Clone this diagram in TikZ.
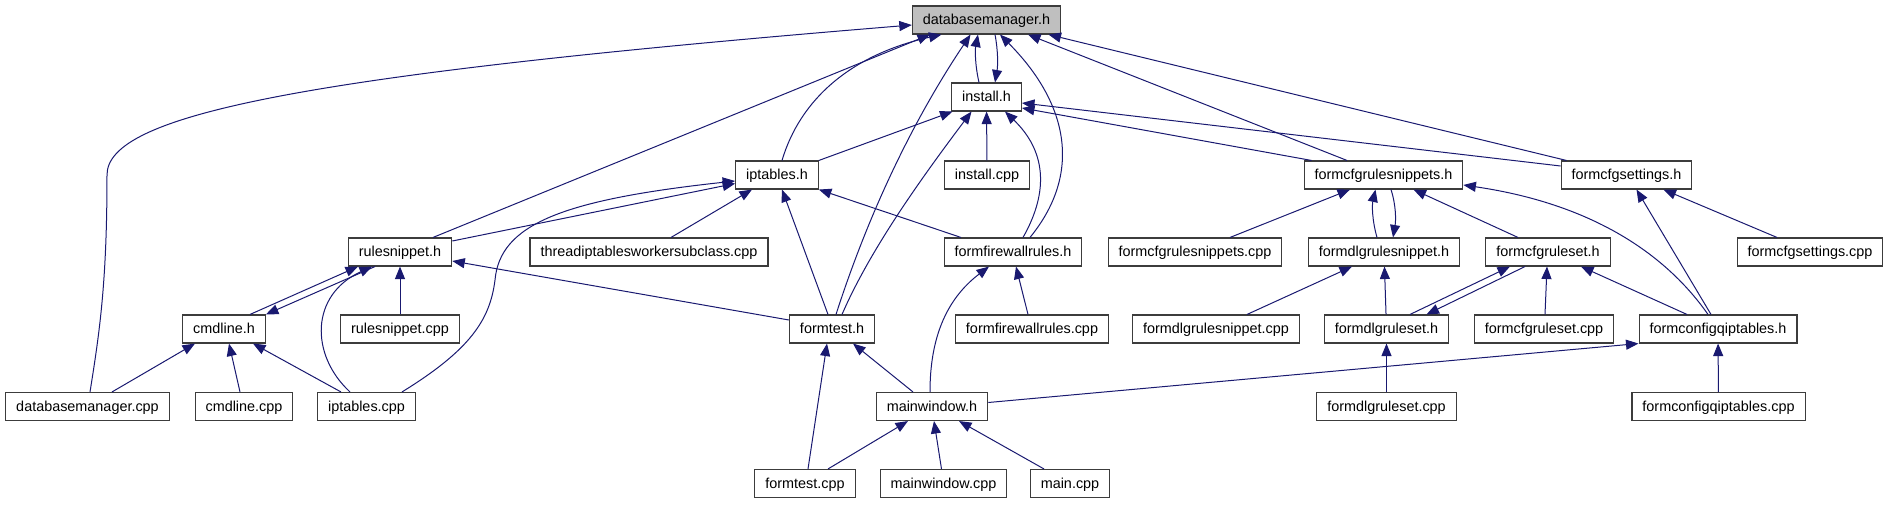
\documentclass[tikz,border=0pt]{standalone}
\usepackage{fontspec}
\setmainfont{Liberation Sans}
\usetikzlibrary{arrows.meta}
\definecolor{edgeblue}{RGB}{25,25,112}
\definecolor{maingray}{RGB}{191,191,191}
\definecolor{boxline}{RGB}{60,60,60}

\begin{document}
\begin{tikzpicture}[x=1pt,y=-1pt,
  file/.style={draw=boxline,line width=1.1pt,fill=white,inner xsep=10.5pt,inner ysep=0pt,
    minimum height=28pt,text height=11pt,text depth=2pt,font=\fontsize{14.4}{17}\selectfont},
  incl/.style={draw=edgeblue,line width=1pt,-{Triangle[length=12.5pt,width=10pt]}}]
\useasboundingbox (0,0) rectangle (1891,504);

\node[file,fill=maingray] (dbmh) at (986.5,20) {databasemanager.h};
\node[file] (installh) at (986.5,97) {install.h};
\node[file] (iptablesh) at (777,175) {iptables.h};
\node[file] (installcpp) at (987,175) {install.cpp};
\node[file] (fcrsh) at (1383.5,175) {formcfgrulesnippets.h};
\node[file] (fcsh) at (1626.5,175) {formcfgsettings.h};
\node[file] (rulesnippeth) at (400,252) {rulesnippet.h};
\node[file] (threadcpp) at (649,252) {threadiptablesworkersubclass.cpp};
\node[file] (ffrh) at (1013,252) {formfirewallrules.h};
\node[file] (fcrscpp) at (1195,252) {formcfgrulesnippets.cpp};
\node[file] (fdrsh) at (1384,252) {formdlgrulesnippet.h};
\node[file] (fcrulesh) at (1548,252) {formcfgruleset.h};
\node[file] (fcscpp) at (1810,252) {formcfgsettings.cpp};
\node[file] (cmdlineh) at (224,329) {cmdline.h};
\node[file] (rulesnippetcpp) at (400,329) {rulesnippet.cpp};
\node[file] (formtesth) at (832,329) {formtest.h};
\node[file] (ffrcpp) at (1032,329) {formfirewallrules.cpp};
\node[file] (fdrscpp) at (1216,329) {formdlgrulesnippet.cpp};
\node[file] (fdrulesh) at (1386.5,329) {formdlgruleset.h};
\node[file] (fcrulescpp) at (1544,329) {formcfgruleset.cpp};
\node[file] (fcqh) at (1718,329) {formconfigqiptables.h};
\node[file] (dbmcpp) at (87.5,406.5) {databasemanager.cpp};
\node[file] (cmdlinecpp) at (244,406.5) {cmdline.cpp};
\node[file] (iptablescpp) at (366.5,406.5) {iptables.cpp};
\node[file] (mainwindowh) at (932,406.5) {mainwindow.h};
\node[file] (fdrulescpp) at (1386.5,406.5) {formdlgruleset.cpp};
\node[file] (fcqcpp) at (1718.5,406.5) {formconfigqiptables.cpp};
\node[file] (formtestcpp) at (805,483.5) {formtest.cpp};
\node[file] (mainwindowcpp) at (943.5,483.5) {mainwindow.cpp};
\node[file] (maincpp) at (1070,483.5) {main.cpp};

\draw[incl] ([xshift=2.5]dbmcpp.north) .. controls (100,330) and (107,280) .. (107,175)
  .. controls (107,115) and (300,75) .. ([yshift=-5]dbmh.west);
\draw[incl] ([xshift=33]rulesnippeth.north) -- ([xshift=-56.5]dbmh.south);
\draw[incl] ([xshift=5]iptablesh.north) .. controls (800,100) and (850,55) .. ([xshift=-45]dbmh.south);
\draw[incl] ([xshift=4]formtesth.north) .. controls (860,240) and (900,140) .. ([xshift=-16]dbmh.south);
\draw[incl] ([xshift=-7.5]installh.north) .. controls (975,65) and (975,50) .. ([xshift=-8.5]dbmh.south);
\draw[incl] ([xshift=8.5]dbmh.south) .. controls (998,50) and (998,65) .. ([xshift=8.5]installh.north);
\draw[incl] ([xshift=17]ffrh.north) .. controls (1085,170) and (1065,100) .. ([xshift=13.5]dbmh.south);
\draw[incl] ([xshift=-36.5]fcrsh.north) -- ([xshift=41.5]dbmh.south);
\draw[incl] ([xshift=-60]fcsh.north) -- ([xshift=62]dbmh.south);

\draw[incl] (iptablesh.north east) -- ([xshift=-34]installh.south);
\draw[incl] ([xshift=10]formtesth.north) .. controls (870,250) and (920,180) .. ([xshift=-15]installh.south);
\draw[incl] (installcpp) -- (installh);
\draw[incl] ([xshift=10]ffrh.north) .. controls (1050,190) and (1045,150) .. ([xshift=18.5]installh.south);
\draw[incl] ([xshift=-72]fcrsh.north) -- ([yshift=-11]installh.east);
\draw[incl] ([yshift=9]fcsh.west) -- ([yshift=-6]installh.east);

\draw[incl] ([yshift=11]rulesnippeth.east) -- ([yshift=-8.5]iptablesh.west);
\draw[incl] ([xshift=35.5]iptablescpp.north) .. controls (470,350) and (490,320) .. (495,280)
  .. controls (500,225) and (560,200) .. ([yshift=-6]iptablesh.west);
\draw[incl] ([xshift=22]threadcpp.north) -- ([xshift=-25]iptablesh.south);
\draw[incl] ([xshift=-4]formtesth.north) -- ([xshift=5]iptablesh.south);
\draw[incl] ([xshift=-52]ffrh.north) -- (iptablesh.south east);

\draw[incl] ([xshift=26]cmdlineh.north) -- ([xshift=-42]rulesnippeth.south);
\draw[incl] ([xshift=-25]rulesnippeth.south) -- (cmdlineh.north east);
\draw[incl] ([xshift=-16.5]iptablescpp.north) .. controls (310,355) and (310,295) .. ([xshift=-28]rulesnippeth.south);
\draw[incl] (rulesnippetcpp) -- (rulesnippeth);
\draw[incl] ([yshift=9]formtesth.west) -- ([yshift=-9]rulesnippeth.east);

\draw[incl] ([xshift=24.5]dbmcpp.north) -- ([xshift=-29]cmdlineh.south);
\draw[incl] ([xshift=-4]cmdlinecpp.north) -- ([xshift=5]cmdlineh.south);
\draw[incl] ([xshift=-25.5]iptablescpp.north) -- ([xshift=29]cmdlineh.south);

\draw[incl] ([xshift=3]formtestcpp.north) -- ([xshift=-5]formtesth.south);
\draw[incl] ([xshift=-19]mainwindowh.north) -- ([xshift=21]formtesth.south);
\draw[incl] ([xshift=-2]mainwindowh.north) .. controls (930,340) and (945,300) .. ([xshift=-24]ffrh.south);
\draw[incl] ([xshift=-4]ffrcpp.north) -- ([xshift=3]ffrh.south);

\draw[incl] ([xshift=23]formtestcpp.north) -- ([xshift=-24]mainwindowh.south);
\draw[incl] ([xshift=-2]mainwindowcpp.north) -- ([xshift=2]mainwindowh.south);
\draw[incl] ([xshift=-26]maincpp.north) -- ([xshift=27]mainwindowh.south);
\draw[incl] ([yshift=4]mainwindowh.east) -- (fcqh.south west);
\draw[incl] (fcqcpp) -- (fcqh);

\draw[incl] ([xshift=35]fcrscpp.north) -- ([xshift=-33.5]fcrsh.south);
\draw[incl] ([xshift=-7]fdrsh.north) .. controls (1372,220) and (1372,205) .. ([xshift=-8]fcrsh.south);
\draw[incl] ([xshift=7.5]fcrsh.south) .. controls (1396,205) and (1396,220) .. ([xshift=9]fdrsh.north);
\draw[incl] ([xshift=-30]fcrulesh.north) -- ([xshift=30]fcrsh.south);
\draw[incl] ([xshift=-10]fcqh.north) .. controls (1670,260) and (1600,205) .. ([yshift=-10]fcrsh.east);
\draw[incl] ([xshift=-7]fcqh.north) -- ([xshift=10]fcsh.south);
\draw[incl] ([xshift=-33]fcscpp.north) -- ([xshift=37]fcsh.south);

\draw[incl] ([xshift=31]fdrscpp.north) -- ([xshift=-32]fdrsh.south);
\draw[incl] (fdrulesh) -- (fdrsh);
\draw[incl] ([xshift=23.5]fdrulesh.north) -- ([xshift=-38]fcrulesh.south);
\draw[incl] ([xshift=-23]fcrulesh.south) -- ([xshift=40]fdrulesh.north);
\draw[incl] ([xshift=1]fcrulescpp.north) -- ([xshift=-1]fcrulesh.south);
\draw[incl] ([xshift=-31]fcqh.north) -- ([xshift=33]fcrulesh.south);
\draw[incl] (fdrulescpp) -- (fdrulesh);
\end{tikzpicture}
\end{document}
